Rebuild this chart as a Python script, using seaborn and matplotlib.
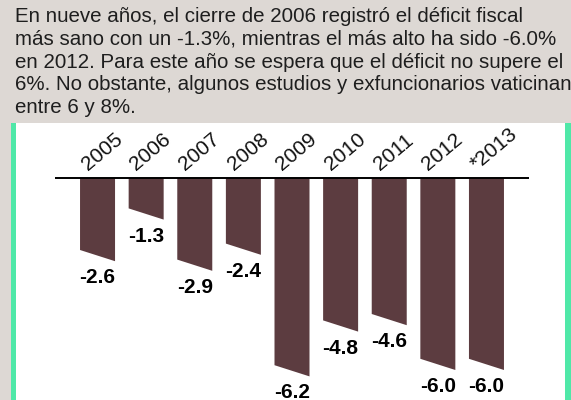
import matplotlib
matplotlib.use('Agg')
import matplotlib.pyplot as plt
from matplotlib.patches import Rectangle, Polygon
import pandas as pd
import seaborn as sns

# datos: déficit fiscal (% del PIB)
anios = ['2005', '2006', '2007', '2008', '2009', '2010', '2011', '2012', '*2013']
deficit = [-2.6, -1.3, -2.9, -2.4, -6.2, -4.8, -4.6, -6.0, -6.0]
lineas_texto = [
    'En nueve años, el cierre de 2006 registró el déficit fiscal',
    'más sano con un -1.3%, mientras el más alto ha sido -6.0%',
    'en 2012. Para este año se espera que el déficit no supere el',
    '6%. No obstante, algunos estudios y exfuncionarios vaticinan',
    'entre 6 y 8%.',
]

df = pd.DataFrame({'anio': anios, 'deficit': deficit})

sns.set_theme(style='white')
plt.rcParams['font.family'] = ['Liberation Sans', 'DejaVu Sans']

W, H = 571, 400
color_barra = '#5c3c40'
verde = '#4fe8a8'

fig = plt.figure(figsize=(W / 100, H / 100), dpi=100)
fig.patch.set_facecolor('#ddd8d4')

# panel blanco y bordes verdes
fig.add_artist(Rectangle((16 / W, 0), (565 - 16) / W, 277 / H, transform=fig.transFigure,
                         facecolor='white', edgecolor='none', zorder=0))
fig.add_artist(Rectangle((11 / W, 0), 5 / W, 277 / H, transform=fig.transFigure,
                         facecolor=verde, edgecolor='none', zorder=0))
fig.add_artist(Rectangle((565 / W, 0), 6 / W, 277 / H, transform=fig.transFigure,
                         facecolor=verde, edgecolor='none', zorder=0))

# texto de cabecera
for i, linea in enumerate(lineas_texto):
    fig.text(15 / W, 1 - (22 + 22.8 * i) / H, linea, ha='left', va='baseline',
             fontsize=14.8, color='#1e1e1e')

ax = fig.add_axes([55 / W, 0, 474 / W, 277 / H])
ax.patch.set_visible(False)
sns.barplot(data=df, x='anio', y='deficit', color=color_barra, saturation=1,
            width=0.72, ax=ax)

# barras con el extremo inferior inclinado
inclinacion = 0.35
for p in list(ax.patches):
    x0, w, h = p.get_x(), p.get_width(), p.get_height()
    ax.add_patch(Polygon([(x0, 0), (x0 + w, 0), (x0 + w, h), (x0, h + inclinacion)],
                         closed=True, facecolor=color_barra, edgecolor='none'))
    p.remove()

ax.set_xlim(-0.875, 8.875)
ax.set_ylim(-222 / 32, 55 / 32)
ax.axhline(0, color='black', lw=1.4, zorder=3)
ax.axis('off')

for i, (anio, v) in enumerate(zip(anios, deficit)):
    ax.text(i, v - 0.22, f'{v:.1f}', ha='center', va='top', fontsize=15,
            fontweight='bold', color='black')
    ax.text(i - 0.2, 0.22, anio, rotation=40, rotation_mode='anchor', ha='left',
            va='baseline', fontsize=15, color='#111111')

fig.savefig('out.png', dpi=100)
